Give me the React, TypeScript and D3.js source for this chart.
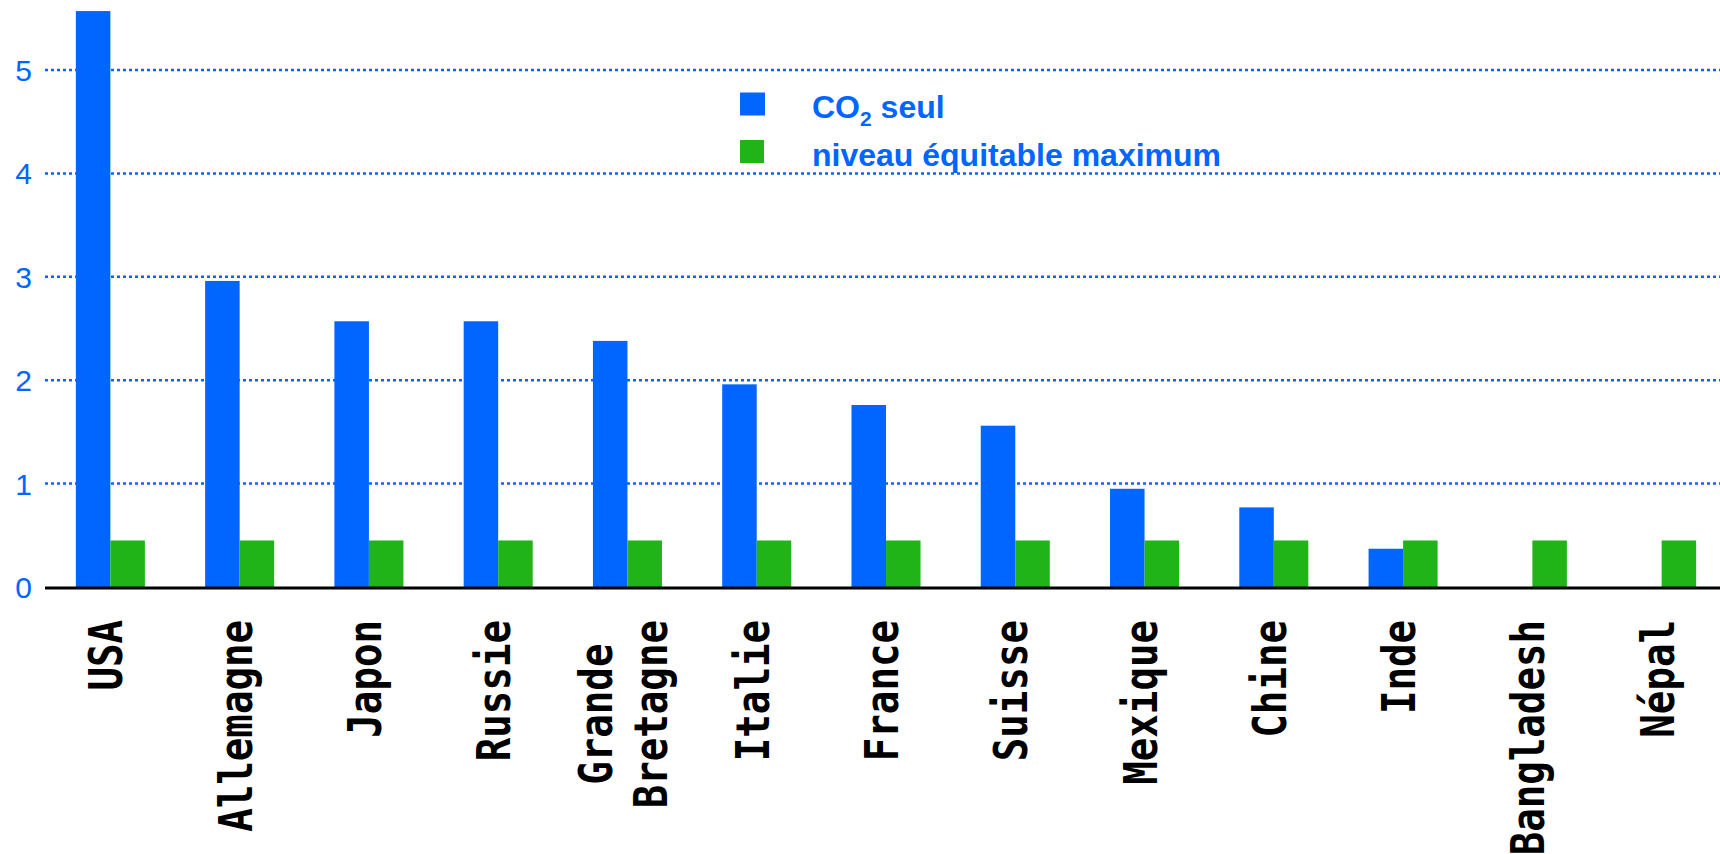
import React, { useEffect, useRef } from 'react';
import * as d3 from 'd3';

// data
const countries = ['USA', 'Allemagne', 'Japon', 'Russie', 'Grande Bretagne', 'Italie', 'France', 'Suisse', 'Mexique', 'Chine', 'Inde', 'Bangladesh', 'Népal'];
const co2Only = [5.57, 2.96, 2.57, 2.57, 2.38, 1.96, 1.76, 1.56, 0.95, 0.77, 0.37, 0, 0];
const fairMax = [0.45, 0.45, 0.45, 0.45, 0.45, 0.45, 0.45, 0.45, 0.45, 0.45, 0.45, 0.45, 0.45];
const yTicks = [0, 1, 2, 3, 4, 5];
const seriesKeys = ['co2', 'fair'];

const BLUE = '#0066ff';
const GREEN = '#20b418';

const App = () => {
  const svgRef = useRef(null);

  useEffect(() => {
    document.body.style.margin = '0';
    const W = 1720, H = 854;
    const svg = d3.select(svgRef.current);
    svg.selectAll('*').remove();

    const y = d3.scaleLinear().domain([0, 5.7]).range([587, 587 - 5.7 * 103.4]);
    const x0 = d3.scaleBand().domain(countries).range([50, 1722]).paddingInner(0.466).paddingOuter(0.2);
    const x1 = d3.scaleBand().domain(seriesKeys).range([0, x0.bandwidth()]);

    // dotted gridlines
    svg.append('g')
      .selectAll('line')
      .data(yTicks.filter(t => t > 0))
      .enter().append('line')
      .attr('x1', 45).attr('x2', W)
      .attr('y1', d => y(d)).attr('y2', d => y(d))
      .attr('stroke', BLUE)
      .attr('stroke-width', 2.5)
      .attr('stroke-dasharray', '3,3');

    // y tick labels
    svg.append('g')
      .selectAll('text')
      .data(yTicks)
      .enter().append('text')
      .attr('x', 32)
      .attr('y', d => y(d) + 11)
      .attr('text-anchor', 'end')
      .attr('font-family', 'Liberation Sans, Arial, sans-serif')
      .attr('font-size', 30)
      .attr('fill', BLUE)
      .text(d => d);

    // bars
    const groups = svg.append('g')
      .selectAll('g')
      .data(countries.map((c, i) => ({ c, co2: co2Only[i], fair: fairMax[i] })))
      .enter().append('g')
      .attr('transform', d => `translate(${x0(d.c)},0)`);

    groups.selectAll('rect')
      .data(d => seriesKeys.map(k => ({ k, v: d[k] })))
      .enter().append('rect')
      .attr('x', d => x1(d.k))
      .attr('width', x1.bandwidth())
      .attr('y', d => y(d.v))
      .attr('height', d => y(0) - y(d.v))
      .attr('fill', d => (d.k === 'co2' ? BLUE : GREEN));

    // baseline
    svg.append('line')
      .attr('x1', 45).attr('x2', W)
      .attr('y1', y(0) + 1).attr('y2', y(0) + 1)
      .attr('stroke', '#000')
      .attr('stroke-width', 3);

    // category labels, rotated, monospace compressed
    const fs = 46, sx = 0.85, lineGap = 55;
    const charW = fs * 0.602 * sx;
    countries.forEach(c => {
      const lines = c.split(' ');
      const cx = x0(c) + x0.bandwidth() / 2;
      const maxLen = d3.max(lines, l => l.length) * charW;
      lines.forEach((l, i) => {
        const bx = cx + 12 + (i - (lines.length - 1) / 2) * lineGap;
        const multi = lines.length > 1;
        const by = multi ? 620 + maxLen / 2 : 620;
        svg.append('text')
          .attr('transform', `translate(${bx},${by}) rotate(-90) scale(${sx},1)`)
          .attr('text-anchor', multi ? 'middle' : 'end')
          .attr('font-family', 'DejaVu Sans Mono, monospace')
          .attr('font-weight', 'bold')
          .attr('font-size', fs)
          .attr('fill', '#000')
          .text(l);
      });
    });

    // legend
    const legend = svg.append('g');
    legend.append('rect').attr('x', 740).attr('y', 92.5).attr('width', 25).attr('height', 23).attr('fill', BLUE);
    legend.append('rect').attr('x', 740).attr('y', 140).attr('width', 24).attr('height', 23).attr('fill', GREEN);
    const t1 = legend.append('text')
      .attr('x', 812).attr('y', 117.5)
      .attr('font-family', 'Liberation Sans, Arial, sans-serif')
      .attr('font-weight', 'bold').attr('font-size', 32).attr('fill', BLUE);
    t1.append('tspan').text('CO');
    t1.append('tspan').attr('font-size', 21).attr('dy', 8).text('2');
    t1.append('tspan').attr('dy', -8).text(' seul');
    legend.append('text')
      .attr('x', 812).attr('y', 166)
      .attr('font-family', 'Liberation Sans, Arial, sans-serif')
      .attr('font-weight', 'bold').attr('font-size', 32).attr('fill', BLUE)
      .text('niveau équitable maximum');

    svg.attr('width', W).attr('height', H);
  }, []);

  return <svg ref={svgRef} width={1720} height={854} style={{ display: 'block', background: '#fff' }} />;
};

export default App;
